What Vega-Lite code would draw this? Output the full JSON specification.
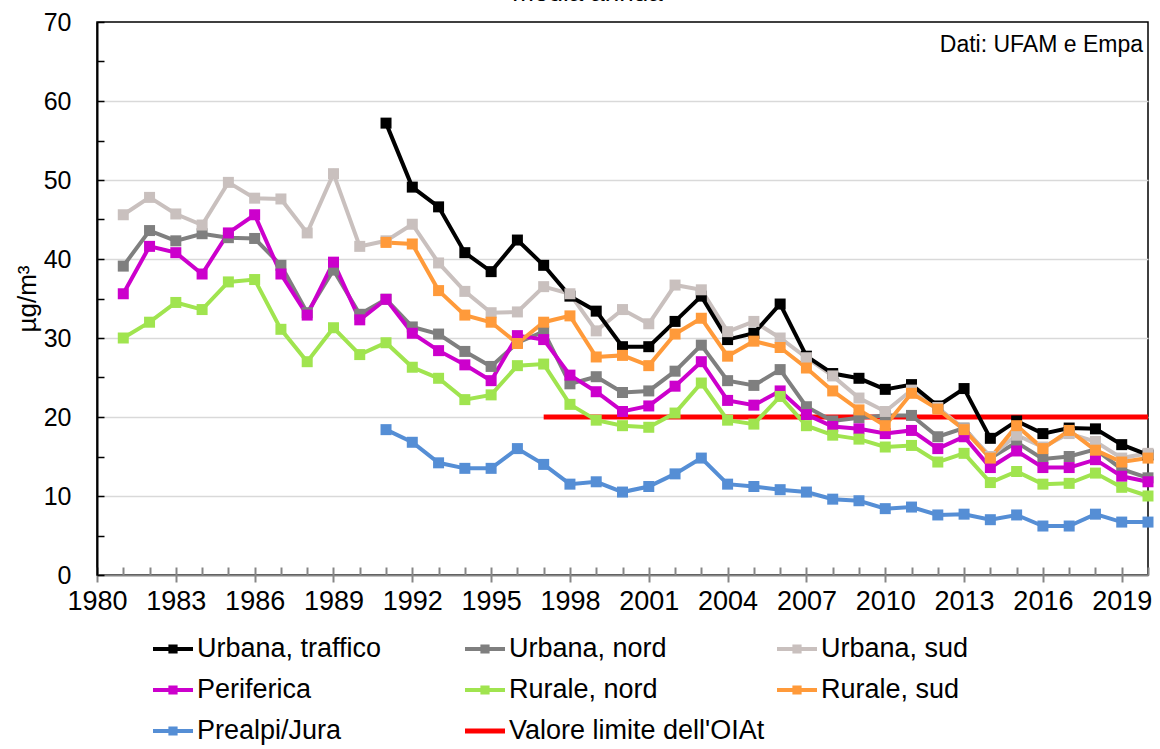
{
  "$schema": "https://vega.github.io/schema/vega-lite/v6.json",
  "width": 1051,
  "height": 553,
  "autosize": {"type": "none"},
  "padding": {"left": 97, "top": 22, "right": 12, "bottom": 174},
  "background": "white",
  "config": {
    "font": "Liberation Sans",
    "view": {"stroke": "#000000", "strokeWidth": 1.5}
  },
  "title": {
    "text": "media annua",
    "fontSize": 26,
    "fontWeight": "normal",
    "font": "Liberation Sans",
    "color": "#000000",
    "anchor": "middle",
    "dx": -35,
    "offset": 4
  },
  "data": {
    "values": [
      {"year": 1981, "Urbana, nord": 39.1, "Urbana, sud": 45.6, "Periferica": 35.6, "Rurale, nord": 30.0},
      {"year": 1982, "Urbana, nord": 43.6, "Urbana, sud": 47.8, "Periferica": 41.6, "Rurale, nord": 32.0},
      {"year": 1983, "Urbana, nord": 42.3, "Urbana, sud": 45.7, "Periferica": 40.8, "Rurale, nord": 34.5},
      {"year": 1984, "Urbana, nord": 43.2, "Urbana, sud": 44.3, "Periferica": 38.1, "Rurale, nord": 33.6},
      {"year": 1985, "Urbana, nord": 42.7, "Urbana, sud": 49.7, "Periferica": 43.3, "Rurale, nord": 37.1},
      {"year": 1986, "Urbana, nord": 42.6, "Urbana, sud": 47.7, "Periferica": 45.6, "Rurale, nord": 37.4},
      {"year": 1987, "Urbana, nord": 39.2, "Urbana, sud": 47.6, "Periferica": 38.1, "Rurale, nord": 31.1},
      {"year": 1988, "Urbana, nord": 33.2, "Urbana, sud": 43.3, "Periferica": 32.9, "Rurale, nord": 27.0},
      {"year": 1989, "Urbana, nord": 38.6, "Urbana, sud": 50.8, "Periferica": 39.6, "Rurale, nord": 31.3},
      {"year": 1990, "Urbana, nord": 33.0, "Urbana, sud": 41.6, "Periferica": 32.3, "Rurale, nord": 27.9},
      {"year": 1991, "Urbana, traffico": 57.2, "Urbana, nord": 34.9, "Urbana, sud": 42.3, "Periferica": 34.9, "Rurale, nord": 29.4, "Rurale, sud": 42.1, "Prealpi/Jura": 18.4},
      {"year": 1992, "Urbana, traffico": 49.1, "Urbana, nord": 31.4, "Urbana, sud": 44.4, "Periferica": 30.6, "Rurale, nord": 26.3, "Rurale, sud": 41.9, "Prealpi/Jura": 16.8},
      {"year": 1993, "Urbana, traffico": 46.6, "Urbana, nord": 30.5, "Urbana, sud": 39.5, "Periferica": 28.4, "Rurale, nord": 24.9, "Rurale, sud": 36.0, "Prealpi/Jura": 14.2},
      {"year": 1994, "Urbana, traffico": 40.8, "Urbana, nord": 28.3, "Urbana, sud": 35.9, "Periferica": 26.6, "Rurale, nord": 22.2, "Rurale, sud": 32.9, "Prealpi/Jura": 13.5},
      {"year": 1995, "Urbana, traffico": 38.4, "Urbana, nord": 26.4, "Urbana, sud": 33.2, "Periferica": 24.6, "Rurale, nord": 22.8, "Rurale, sud": 32.0, "Prealpi/Jura": 13.5},
      {"year": 1996, "Urbana, traffico": 42.4, "Urbana, nord": 29.4, "Urbana, sud": 33.3, "Periferica": 30.3, "Rurale, nord": 26.5, "Rurale, sud": 29.3, "Prealpi/Jura": 16.0},
      {"year": 1997, "Urbana, traffico": 39.2, "Urbana, nord": 30.8, "Urbana, sud": 36.5, "Periferica": 29.8, "Rurale, nord": 26.7, "Rurale, sud": 32.0, "Prealpi/Jura": 14.0},
      {"year": 1998, "Urbana, traffico": 35.3, "Urbana, nord": 24.2, "Urbana, sud": 35.6, "Periferica": 25.3, "Rurale, nord": 21.6, "Rurale, sud": 32.8, "Prealpi/Jura": 11.5},
      {"year": 1999, "Urbana, traffico": 33.4, "Urbana, nord": 25.1, "Urbana, sud": 30.9, "Periferica": 23.2, "Rurale, nord": 19.6, "Rurale, sud": 27.6, "Prealpi/Jura": 11.8},
      {"year": 2000, "Urbana, traffico": 28.9, "Urbana, nord": 23.1, "Urbana, sud": 33.6, "Periferica": 20.7, "Rurale, nord": 18.9, "Rurale, sud": 27.8, "Prealpi/Jura": 10.5},
      {"year": 2001, "Urbana, traffico": 28.9, "Urbana, nord": 23.3, "Urbana, sud": 31.8, "Periferica": 21.4, "Rurale, nord": 18.7, "Rurale, sud": 26.5, "Prealpi/Jura": 11.2},
      {"year": 2002, "Urbana, traffico": 32.1, "Urbana, nord": 25.8, "Urbana, sud": 36.7, "Periferica": 23.9, "Rurale, nord": 20.5, "Rurale, sud": 30.5, "Prealpi/Jura": 12.8},
      {"year": 2003, "Urbana, traffico": 35.3, "Urbana, nord": 29.1, "Urbana, sud": 36.1, "Periferica": 27.0, "Rurale, nord": 24.3, "Rurale, sud": 32.5, "Prealpi/Jura": 14.8},
      {"year": 2004, "Urbana, traffico": 29.8, "Urbana, nord": 24.6, "Urbana, sud": 30.8, "Periferica": 22.1, "Rurale, nord": 19.6, "Rurale, sud": 27.7, "Prealpi/Jura": 11.5},
      {"year": 2005, "Urbana, traffico": 30.6, "Urbana, nord": 24.0, "Urbana, sud": 32.1, "Periferica": 21.5, "Rurale, nord": 19.1, "Rurale, sud": 29.6, "Prealpi/Jura": 11.2},
      {"year": 2006, "Urbana, traffico": 34.3, "Urbana, nord": 26.0, "Urbana, sud": 30.0, "Periferica": 23.3, "Rurale, nord": 22.6, "Rurale, sud": 28.8, "Prealpi/Jura": 10.8},
      {"year": 2007, "Urbana, traffico": 27.7, "Urbana, nord": 21.3, "Urbana, sud": 27.5, "Periferica": 20.3, "Rurale, nord": 18.9, "Rurale, sud": 26.2, "Prealpi/Jura": 10.5},
      {"year": 2008, "Urbana, traffico": 25.5, "Urbana, nord": 19.5, "Urbana, sud": 25.2, "Periferica": 18.8, "Rurale, nord": 17.7, "Rurale, sud": 23.3, "Prealpi/Jura": 9.6},
      {"year": 2009, "Urbana, traffico": 24.9, "Urbana, nord": 19.9, "Urbana, sud": 22.4, "Periferica": 18.5, "Rurale, nord": 17.2, "Rurale, sud": 20.9, "Prealpi/Jura": 9.4},
      {"year": 2010, "Urbana, traffico": 23.5, "Urbana, nord": 20.2, "Urbana, sud": 20.7, "Periferica": 17.9, "Rurale, nord": 16.2, "Rurale, sud": 18.9, "Prealpi/Jura": 8.4},
      {"year": 2011, "Urbana, traffico": 24.1, "Urbana, nord": 20.2, "Urbana, sud": 23.4, "Periferica": 18.3, "Rurale, nord": 16.4, "Rurale, sud": 23.0, "Prealpi/Jura": 8.6},
      {"year": 2012, "Urbana, traffico": 21.4, "Urbana, nord": 17.5, "Urbana, sud": 21.2, "Periferica": 16.0, "Rurale, nord": 14.3, "Rurale, sud": 21.0, "Prealpi/Jura": 7.6},
      {"year": 2013, "Urbana, traffico": 23.6, "Urbana, nord": 18.6, "Urbana, sud": 18.5, "Periferica": 17.5, "Rurale, nord": 15.4, "Rurale, sud": 18.4, "Prealpi/Jura": 7.7},
      {"year": 2014, "Urbana, traffico": 17.3, "Urbana, nord": 14.8, "Urbana, sud": 15.0, "Periferica": 13.6, "Rurale, nord": 11.7, "Rurale, sud": 14.8, "Prealpi/Jura": 7.0},
      {"year": 2015, "Urbana, traffico": 19.5, "Urbana, nord": 16.8, "Urbana, sud": 17.7, "Periferica": 15.7, "Rurale, nord": 13.1, "Rurale, sud": 18.9, "Prealpi/Jura": 7.6},
      {"year": 2016, "Urbana, traffico": 17.9, "Urbana, nord": 14.7, "Urbana, sud": 16.2, "Periferica": 13.6, "Rurale, nord": 11.5, "Rurale, sud": 16.0, "Prealpi/Jura": 6.2},
      {"year": 2017, "Urbana, traffico": 18.6, "Urbana, nord": 15.0, "Urbana, sud": 17.9, "Periferica": 13.6, "Rurale, nord": 11.6, "Rurale, sud": 18.3, "Prealpi/Jura": 6.2},
      {"year": 2018, "Urbana, traffico": 18.5, "Urbana, nord": 15.9, "Urbana, sud": 16.9, "Periferica": 14.6, "Rurale, nord": 12.9, "Rurale, sud": 15.8, "Prealpi/Jura": 7.7},
      {"year": 2019, "Urbana, traffico": 16.5, "Urbana, nord": 13.4, "Urbana, sud": 14.8, "Periferica": 12.5, "Rurale, nord": 11.1, "Rurale, sud": 14.3, "Prealpi/Jura": 6.7},
      {"year": 2020, "Urbana, traffico": 15.2, "Urbana, nord": 12.3, "Urbana, sud": 15.4, "Periferica": 11.8, "Rurale, nord": 10.0, "Rurale, sud": 14.8, "Prealpi/Jura": 6.7}
    ]
  },
  "layer": [
    {
      "data": {"values": [
        {"year": 1997, "series": "Valore limite dell'OIAt", "value": 20},
        {"year": 2020, "series": "Valore limite dell'OIAt", "value": 20}
      ]},
      "mark": {"type": "line", "strokeWidth": 5},
      "encoding": {
        "x": {"field": "year", "type": "quantitative", "scale": {"domain": [1980, 2020], "nice": false, "zero": false},
          "axis": {"orient": "bottom", "values": [1980,1981,1982,1983,1984,1985,1986,1987,1988,1989,1990,1991,1992,1993,1994,1995,1996,1997,1998,1999,2000,2001,2002,2003,2004,2005,2006,2007,2008,2009,2010,2011,2012,2013,2014,2015,2016,2017,2018,2019,2020],
            "tickSize": -8, "tickColor": "#868686", "tickWidth": 2, "labels": false, "domain": false, "grid": false, "title": null}},
        "y": {"field": "value", "type": "quantitative", "scale": {"domain": [0, 70], "nice": false},
          "axis": {"orient": "left", "values": [0,5,10,15,20,25,30,35,40,45,50,55,60,65,70],
            "tickSize": -7, "tickColor": "#000000", "tickWidth": 1.5, "labels": false, "domain": false, "grid": false, "title": null}},
        "color": {"field": "series", "type": "nominal"}
      }
    },
    {
      "transform": [
        {"fold": ["Urbana, traffico", "Urbana, nord", "Urbana, sud", "Periferica", "Rurale, nord", "Rurale, sud", "Prealpi/Jura"], "as": ["series", "value"]},
        {"filter": "isValid(datum.value)"}
      ],
      "mark": {"type": "line", "strokeWidth": 4},
      "encoding": {
        "x": {"field": "year", "type": "quantitative",
          "axis": {"orient": "bottom", "values": [1980,1983,1986,1989,1992,1995,1998,2001,2004,2007,2010,2013,2016,2019], "format": "d",
            "labelFontSize": 27, "labelColor": "#000000", "labelFont": "Liberation Sans", "tickSize": 7, "tickColor": "#868686", "tickWidth": 2,
            "domainColor": "#868686", "domainWidth": 2, "grid": false, "title": null, "labelPadding": 6, "labelFlush": false, "labelOverlap": false}},
        "y": {"field": "value", "type": "quantitative",
          "axis": {"orient": "left", "values": [0,10,20,30,40,50,60,70], "labelFontSize": 25, "labelColor": "#000000", "labelFont": "Liberation Sans",
            "ticks": false, "domainColor": "#000000", "domainWidth": 2, "grid": true,
            "gridColor": {"condition": {"test": "datum.value == 0 || datum.value == 70", "value": "transparent"}, "value": "#D9D9D9"},
            "gridWidth": 1.5, "title": "µg/m³", "titleFontSize": 26, "titleFontWeight": "normal", "titleFont": "Liberation Sans", "titleColor": "#000000",
            "titlePadding": 3, "labelPadding": 26, "labelFlush": false}},
        "color": {"field": "series", "type": "nominal",
          "scale": {
            "domain": ["Urbana, traffico", "Urbana, nord", "Urbana, sud", "Periferica", "Rurale, nord", "Rurale, sud", "Prealpi/Jura", "Valore limite dell'OIAt"],
            "range": ["#000000", "#7F7F7F", "#C9C0BE", "#CC00CC", "#A0E44F", "#FF9A3A", "#558ED5", "#FF0000"]
          },
          "legend": {
            "title": null,
            "orient": "none",
            "legendX": 56,
            "legendY": 607,
            "direction": "horizontal",
            "columns": 3,
            "gridAlign": "all",
            "padding": 0,
            "symbolSize": 1600,
            "symbolType": "M-1,-0.1H1V0.1H-1Z",
            "labelFontSize": 27,
            "labelFont": "Liberation Sans",
            "labelColor": "#000000",
            "labelOffset": 4,
            "labelLimit": 400,
            "rowPadding": 8,
            "columnPadding": 12,
            "encode": {
              "labels": {
                "update": {
                  "fontSize": {"value": 27}
                }
              },
              "symbols": {
                "update": {
                  "shape": [
                    {"test": "datum.value === \"Valore limite dell'OIAt\"", "value": "M-1,-0.12H1V0.12H-1Z"},
                    {"value": "M-1,-0.1H1V0.1H-1Z M-0.23,-0.23H0.23V0.23H-0.23Z"}
                  ],
                  "fill": {"scale": "color", "field": "value"},
                  "stroke": {"value": "transparent"},
                  "strokeWidth": {"value": 0},
                  "opacity": {"value": 1}
                }
              }
            }
          }
        }
      }
    },
    {
      "transform": [
        {"fold": ["Urbana, traffico", "Urbana, nord", "Urbana, sud", "Periferica", "Rurale, nord", "Rurale, sud", "Prealpi/Jura"], "as": ["series", "value"]},
        {"filter": "isValid(datum.value)"}
      ],
      "mark": {"type": "point", "shape": "square", "filled": true, "size": 121, "opacity": 1},
      "encoding": {
        "x": {"field": "year", "type": "quantitative", "axis": null},
        "y": {"field": "value", "type": "quantitative", "axis": null},
        "color": {"field": "series", "type": "nominal"}
      }
    },
    {
      "data": {"values": [{"note": "Dati: UFAM e Empa"}]},
      "mark": {"type": "text", "align": "right", "baseline": "alphabetic", "fontSize": 23, "font": "Liberation Sans", "color": "#000000", "dx": -5},
      "encoding": {
        "text": {"field": "note"},
        "x": {"datum": 2020, "type": "quantitative", "axis": null},
        "y": {"datum": 66.2, "type": "quantitative", "axis": null}
      }
    }
  ],
  "resolve": {"axis": {"x": "independent", "y": "independent"}}
}
